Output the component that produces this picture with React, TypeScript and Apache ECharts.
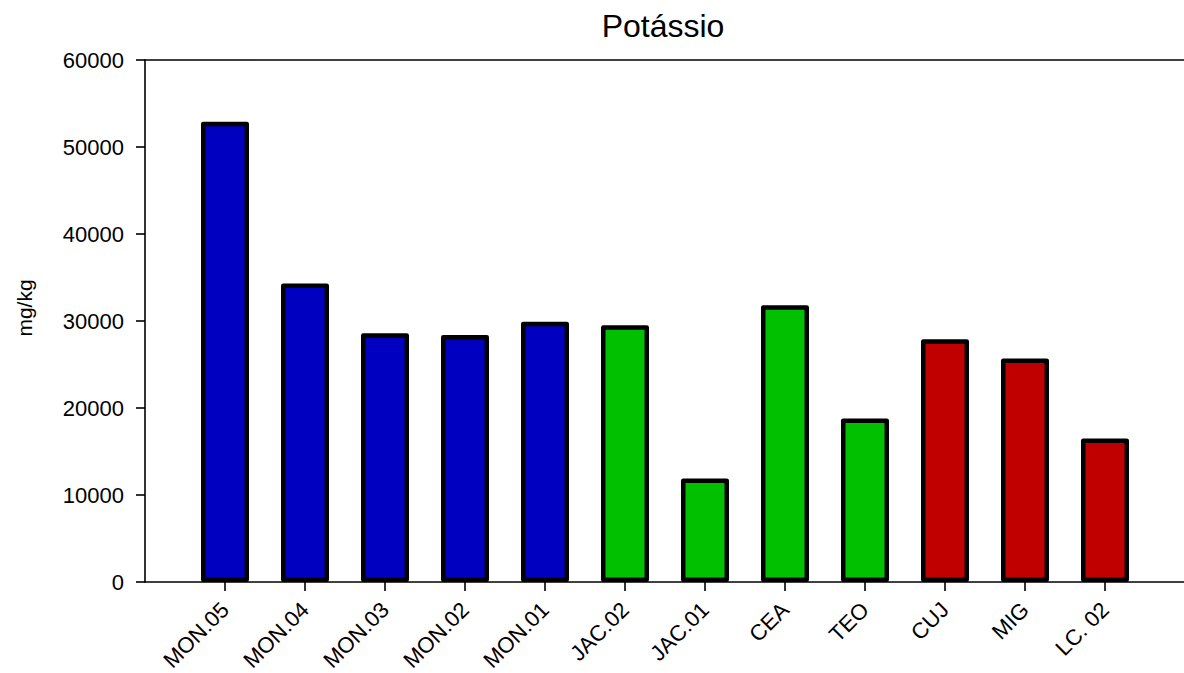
import React, { useEffect, useRef } from "react";
import * as echarts from "echarts";

// Sample sites and potassium content (mg/kg)
const sites = ["MON.05", "MON.04", "MON.03", "MON.02", "MON.01", "JAC.02", "JAC.01", "CEA", "TEO", "CUJ", "MIG", "LC. 02"];
const potassium = [52900, 34300, 28600, 28400, 29900, 29500, 11900, 31800, 18800, 27900, 25700, 16500];
// Site group of each sample: 0 = MON, 1 = JAC/CEA/TEO, 2 = CUJ/MIG/LC
const groupOf = [0, 0, 0, 0, 0, 1, 1, 1, 1, 2, 2, 2];
const groupColors = ["#0000c0", "#00c000", "#c00000"];

const yTicks = { min: 0, max: 60000, step: 10000 };
const titleText = "Potássio";
const unitText = "mg/kg";

const FONT = "'Liberation Sans', Arial, Helvetica, sans-serif";

export default function App() {
  const ref = useRef<HTMLDivElement>(null);

  useEffect(() => {
    if (!ref.current) return;
    const chart = echarts.init(ref.current, null, { renderer: "svg" });

    const frameTop = 60;
    const frameBottom = 91;

    chart.setOption({
      animation: false,
      backgroundColor: "#ffffff",
      grid: [
        { left: 145, right: 0, top: frameTop, bottom: frameBottom, outerBoundsMode: "none", containLabel: false },
        { left: 185, width: 960, top: frameTop, bottom: frameBottom, outerBoundsMode: "none", containLabel: false },
      ],
      xAxis: [
        {
          gridIndex: 0,
          type: "value",
          position: "bottom",
          min: 0,
          max: 1,
          axisLine: { show: true, onZero: false, lineStyle: { color: "#000", width: 1.6 } },
          axisTick: { show: false },
          axisLabel: { show: false },
          splitLine: { show: false },
        },
        {
          gridIndex: 0,
          type: "value",
          position: "top",
          min: 0,
          max: 1,
          axisLine: { show: true, onZero: false, lineStyle: { color: "#000", width: 1.6 } },
          axisTick: { show: false },
          axisLabel: { show: false },
          splitLine: { show: false },
        },
        {
          gridIndex: 1,
          type: "category",
          data: sites,
          boundaryGap: true,
          axisLine: { show: false },
          axisTick: {
            show: true,
            alignWithLabel: true,
            length: 9,
            lineStyle: { color: "#000", width: 1.6 },
          },
          axisLabel: {
            interval: 0,
            rotate: 45,
            margin: 24,
            color: "#000",
            fontSize: 22,
            fontFamily: FONT,
          },
        },
      ],
      yAxis: [
        {
          gridIndex: 0,
          type: "value",
          min: yTicks.min,
          max: yTicks.max,
          interval: yTicks.step,
          axisLine: { show: true, lineStyle: { color: "#000", width: 1.6 } },
          axisTick: { show: true, length: 9, lineStyle: { color: "#000", width: 1.6 } },
          axisLabel: {
            color: "#000",
            fontSize: 22,
            fontFamily: FONT,
            margin: 21,
            formatter: (v: number) => String(v),
          },
          splitLine: { show: false },
        },
        {
          gridIndex: 1,
          type: "value",
          min: yTicks.min,
          max: yTicks.max,
          show: false,
        },
      ],
      series: [
        {
          type: "bar",
          xAxisIndex: 2,
          yAxisIndex: 1,
          barWidth: 48,
          data: potassium.map((v, i) => ({
            value: v,
            itemStyle: { color: groupColors[groupOf[i]] },
          })),
          itemStyle: { borderColor: "#000", borderWidth: 4.5, borderJoin: "round" },
        },
      ],
      graphic: [
        {
          type: "text",
          x: 663,
          y: 26,
          style: {
            text: titleText,
            fill: "#000",
            font: `32px ${FONT}`,
            textAlign: "center",
            textVerticalAlign: "middle",
          },
        },
        {
          type: "text",
          x: 24,
          y: 308,
          rotation: Math.PI / 2,
          style: {
            text: unitText,
            fill: "#000",
            font: `21px ${FONT}`,
            textAlign: "center",
            textVerticalAlign: "middle",
          },
        },
      ],
    });

    return () => chart.dispose();
  }, []);

  return <div ref={ref} style={{ width: 1184, height: 673, position: "absolute", left: 0, top: 0 }} />;
}
